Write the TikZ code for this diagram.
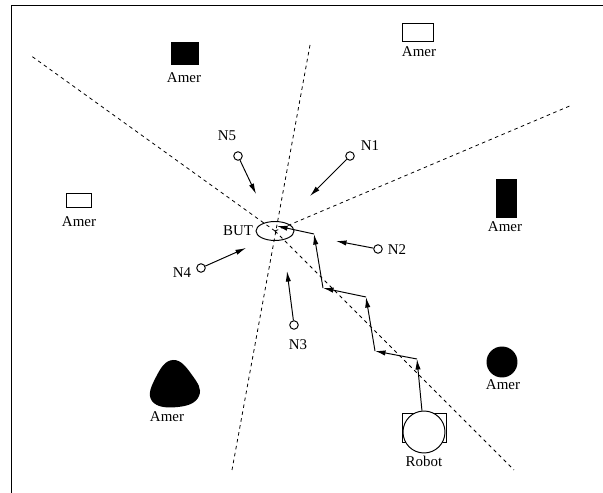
\documentclass[tikz,border=0pt]{standalone}
\usepackage{fontspec}
\setmainfont{Liberation Serif}
\usetikzlibrary{arrows.meta,shapes.geometric}

\begin{document}
\begin{tikzpicture}[x=0.02cm, y=-0.02cm, >={Latex[length=6pt,width=3pt]}, line width=0.55pt,
    every node/.style={font=\fontsize{8.5}{10}\selectfont},
    sect/.style={dash pattern=on 2pt off 2pt, line width=0.45pt},
    obst/.style={draw, fill=black, inner sep=0pt},
    hollow/.style={draw, fill=white, inner sep=0pt},
    sub/.style={circle, draw, inner sep=0pt, minimum size=0.17cm}]
    \useasboundingbox (0,0) rectangle (603,493);

    % Frame
    \draw (11,493) -- (11,5) -- (603,5);

    % Goal BUT
    \node[ellipse, draw, minimum width=0.76cm, minimum height=0.38cm, inner sep=0pt] (but) at (275,231) {};
    \node (butl) at (238,231) {BUT};

    % Sector lines through the goal
    \coordinate (s1) at (30,55);
    \coordinate (s2) at (572,105);
    \coordinate (s3) at (310,45);
    \coordinate (s4) at (232,470);
    \coordinate (s5) at (514,470);
    \draw[sect] (but.center) -- (s1);
    \draw[sect] (but.center) -- (s2);
    \draw[sect] (s3) -- (s4);
    \draw[sect] (but.center) -- (s5);

    % Obstacles
    \node[obst, minimum width=0.54cm, minimum height=0.44cm] (o1) at (185,53) {};
    \node (l1) at (184,78) {Amer};
    \node[hollow, minimum width=0.62cm, minimum height=0.36cm] (o2) at (418,32) {};
    \node (l2) at (419,52) {Amer};
    \node[hollow, minimum width=0.5cm, minimum height=0.28cm] (o3) at (79,200) {};
    \node (l3) at (79,222) {Amer};
    \node[obst, minimum width=0.4cm, minimum height=0.76cm] (o4) at (506,198) {};
    \node (l4) at (505,227) {Amer};
    \fill plot[smooth cycle, tension=0.8] coordinates {(173,360) (192,375) (199,396) (178,407) (152,401) (156,377)};
    \node (l5) at (167,417) {Amer};
    \node[obst, circle, minimum size=0.6cm] (o6) at (502,362) {};
    \node (l6) at (503,385) {Amer};

    % Sub-goals N1..N5
    \node[sub] (n1) at (350,156) {};
    \node (n1l) at (370,146) {N1};
    \coordinate (t1) at (310,196);
    \draw[->] (n1) -- (t1);

    \node[sub] (n2) at (378,249) {};
    \node (n2l) at (397,250) {N2};
    \coordinate (t2) at (336,241);
    \draw[->] (n2) -- (t2);

    \node[sub] (n3) at (294,325) {};
    \node (n3l) at (298,345) {N3};
    \coordinate (t3) at (287,271);
    \draw[->] (n3) -- (t3);

    \node[sub] (n4) at (201,268) {};
    \node (n4l) at (182,273) {N4};
    \coordinate (t4) at (246,248);
    \draw[->] (n4) -- (t4);

    \node[sub] (n5) at (238,156) {};
    \node (n5l) at (227,136) {N5};
    \coordinate (t5) at (256,194);
    \draw[->] (n5) -- (t5);

    % Robot
    \node[draw, minimum width=0.88cm, minimum height=0.58cm, inner sep=0pt] (chassis) at (424,428) {};
    \node[circle, draw, fill=white, minimum size=0.84cm, inner sep=0pt] (robot) at (424,432) {};
    \node (robotl) at (424,461) {Robot};

    % Path of the robot
    \coordinate (p1) at (417,359);
    \coordinate (p2) at (375,351);
    \coordinate (p3) at (366,297);
    \coordinate (p4) at (323,288);
    \coordinate (p5) at (314,234);
    \coordinate (p6) at (277,226);
    \draw[->] (robot) -- (p1);
    \draw[->] (p1) -- (p2);
    \draw[->] (p2) -- (p3);
    \draw[->] (p3) -- (p4);
    \draw[->] (p4) -- (p5);
    \draw[->] (p5) -- (p6);
\end{tikzpicture}
\end{document}
